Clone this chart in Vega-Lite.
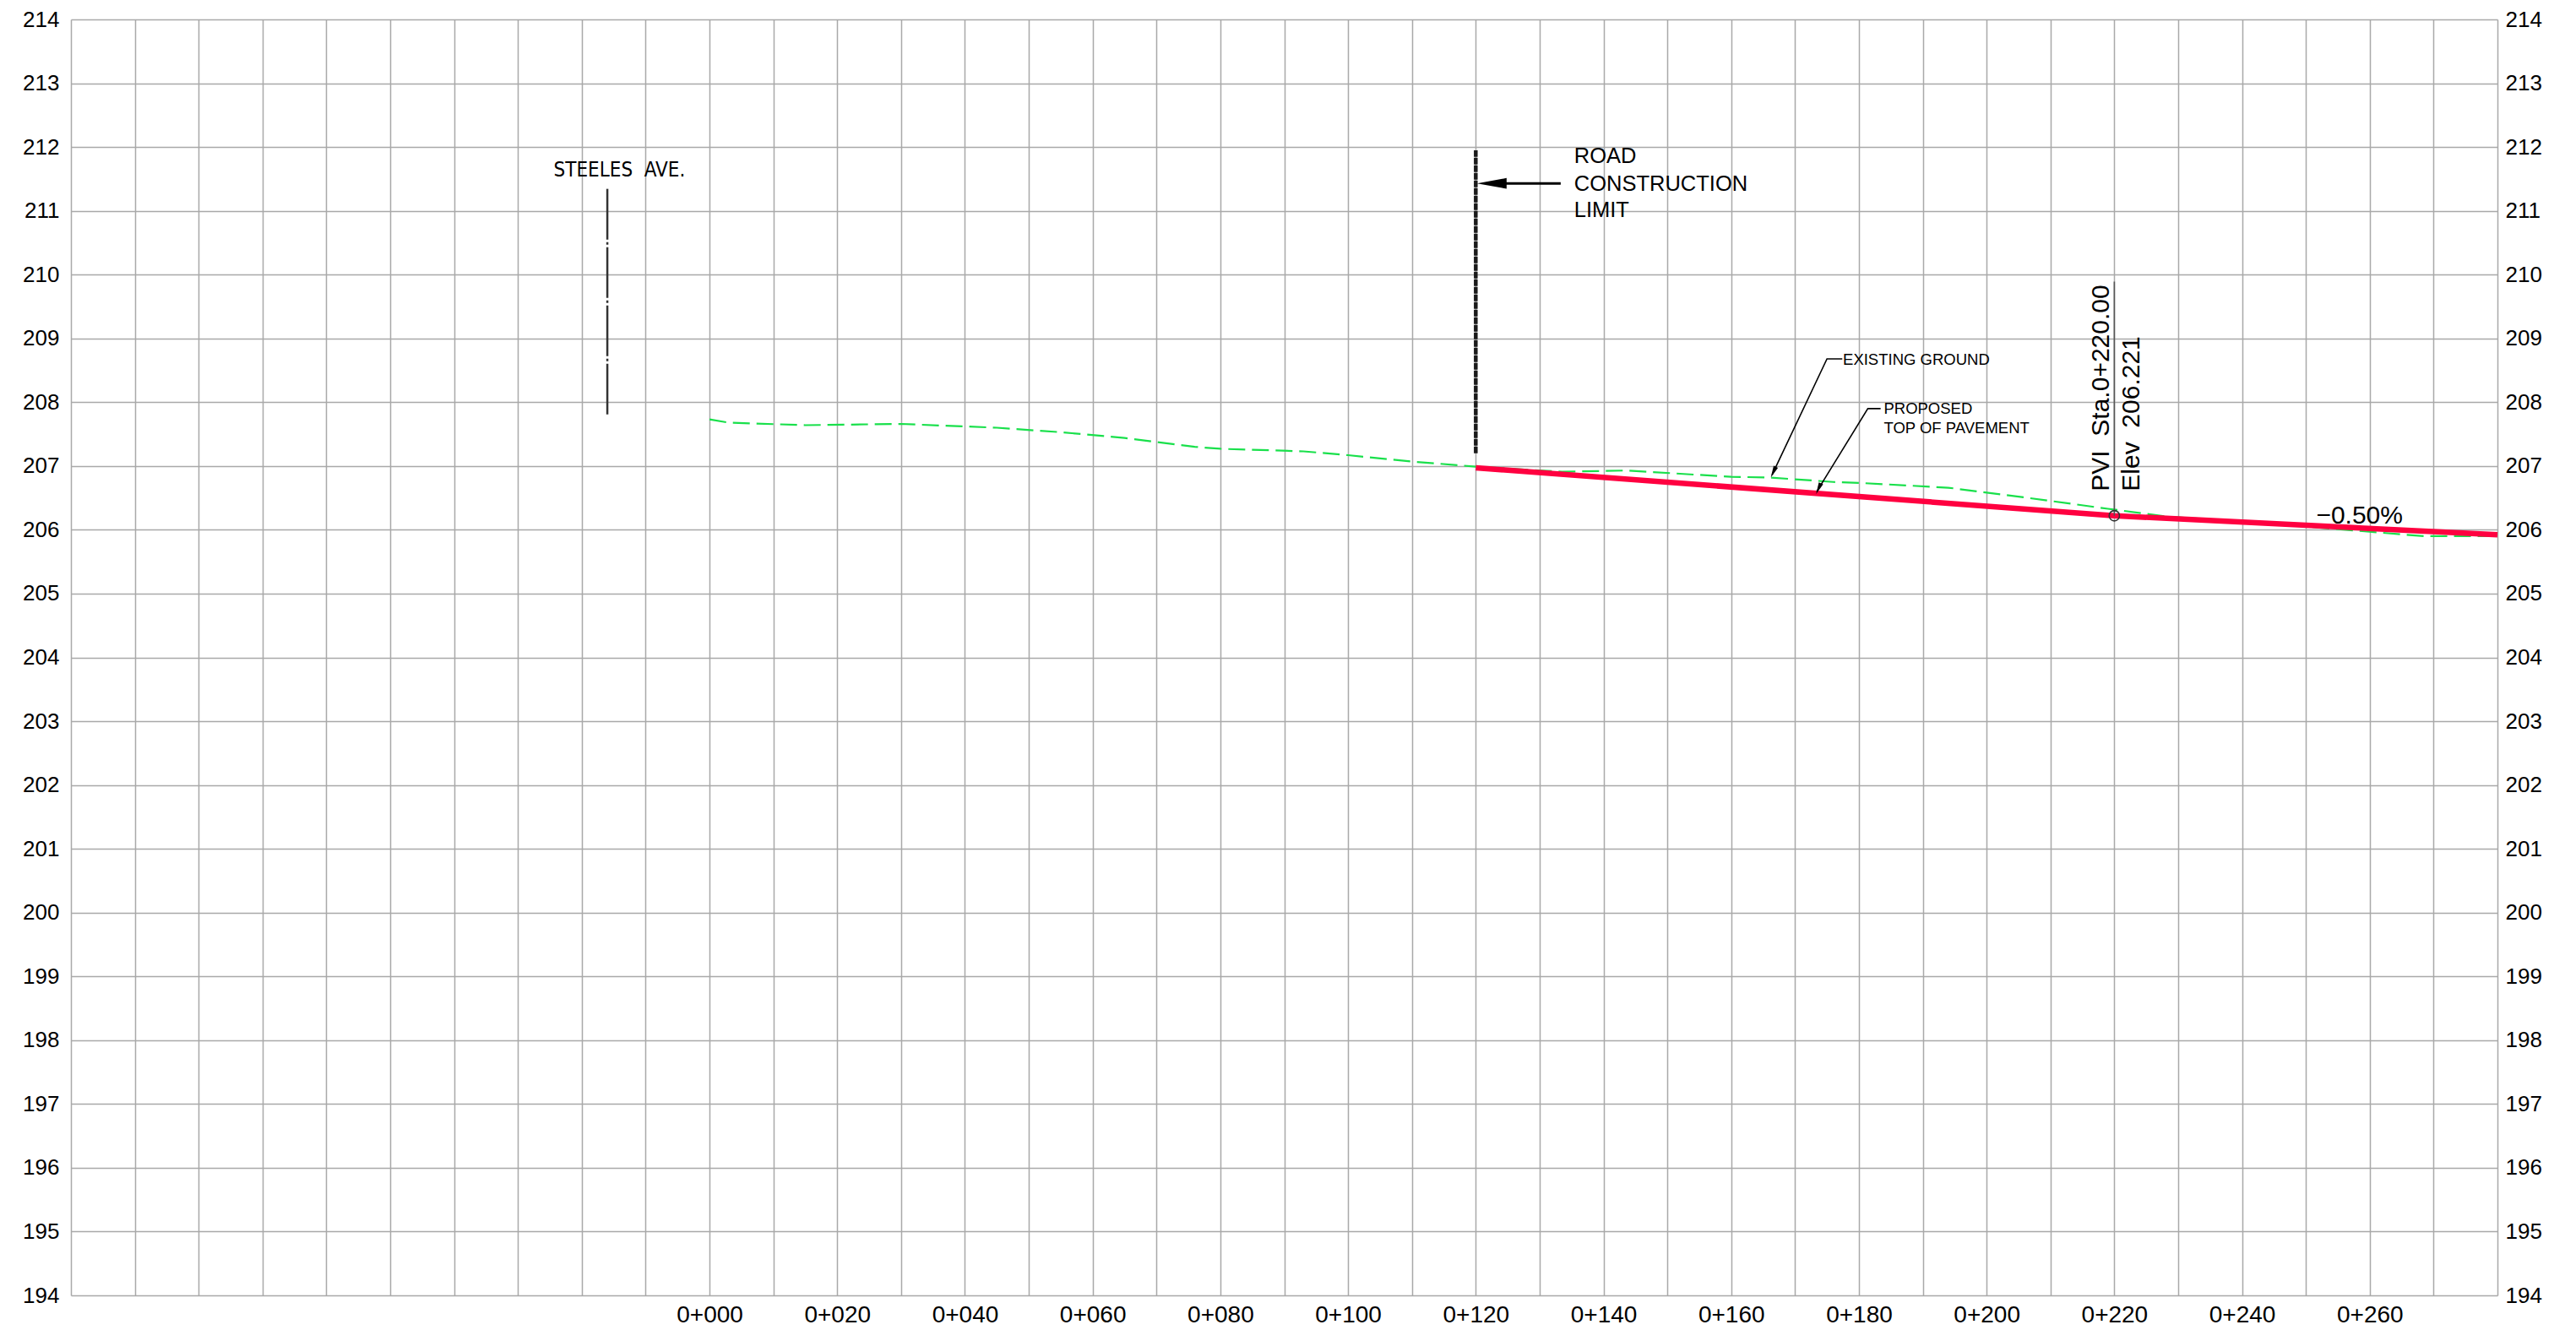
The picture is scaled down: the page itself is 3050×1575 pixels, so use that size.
{
  "$schema": "https://vega.github.io/schema/vega-lite/v6.json",
  "width": 2873,
  "height": 1511,
  "autosize": {"type": "none"},
  "padding": {"left": 84, "top": 23, "right": 93, "bottom": 41},
  "background": "white",
  "config": {
    "view": {"stroke": null},
    "font": "Liberation Sans",
    "axis": {"ticks": false, "domain": false, "title": null, "labelColor": "black", "labelFont": "Liberation Sans", "labelOverlap": false, "labelFlush": false, "gridColor": "#a9a9a9", "gridWidth": 1.5, "gridOpacity": 1}
  },
  "datasets": {
    "ground": [
      {"station": 0, "elev": 207.73}, {"station": 3, "elev": 207.68}, {"station": 15, "elev": 207.64},
      {"station": 30, "elev": 207.66}, {"station": 45, "elev": 207.6}, {"station": 55, "elev": 207.53},
      {"station": 65, "elev": 207.44}, {"station": 76, "elev": 207.3}, {"station": 80, "elev": 207.27},
      {"station": 93, "elev": 207.23}, {"station": 100, "elev": 207.17}, {"station": 110, "elev": 207.07},
      {"station": 120, "elev": 206.99}, {"station": 133.5, "elev": 206.91}, {"station": 143.6, "elev": 206.93},
      {"station": 160, "elev": 206.83}, {"station": 166, "elev": 206.82}, {"station": 176, "elev": 206.75},
      {"station": 181, "elev": 206.73}, {"station": 194, "elev": 206.66}, {"station": 205, "elev": 206.52},
      {"station": 219, "elev": 206.33}, {"station": 228, "elev": 206.21}, {"station": 240, "elev": 206.13},
      {"station": 250, "elev": 206.05}, {"station": 257.5, "elev": 205.99}, {"station": 268.5, "elev": 205.9},
      {"station": 280, "elev": 205.9}
    ],
    "proposed": [
      {"station": 120, "elev": 206.971}, {"station": 220, "elev": 206.221}, {"station": 280, "elev": 205.921}
    ],
    "steeles": [{"station": -16, "elev": 207.81, "elev2": 211.35}],
    "limit": [{"station": 120, "elev": 207.2, "elev2": 211.95}],
    "shaft": [{"station": 124.5, "station2": 133.3, "elev": 211.43}],
    "limitArrow": [{"station": 120.2, "elev": 211.43}],
    "leaders": [
      {"leader": "existing", "order": 1, "station": 177.4, "elev": 208.68},
      {"leader": "existing", "order": 2, "station": 175.0, "elev": 208.68},
      {"leader": "existing", "order": 3, "station": 166.4, "elev": 206.86},
      {"leader": "proposed", "order": 1, "station": 183.4, "elev": 207.9},
      {"leader": "proposed", "order": 2, "station": 181.4, "elev": 207.9},
      {"leader": "proposed", "order": 3, "station": 173.4, "elev": 206.6}
    ],
    "tipExisting": [{"station": 166.2, "elev": 206.82}],
    "tipProposed": [{"station": 173.3, "elev": 206.56}],
    "pviLine": [{"station": 220, "elev": 206.221, "elev2": 209.89}],
    "pvi": [{"station": 220, "elev": 206.221}],
    "roadText": [
      {"station": 135.4, "elev": 211.745, "text": "ROAD"},
      {"station": 135.4, "elev": 211.316, "text": "CONSTRUCTION"},
      {"station": 135.4, "elev": 210.906, "text": "LIMIT"}
    ],
    "smallText": [
      {"station": 177.5, "elev": 208.586, "text": "EXISTING GROUND"},
      {"station": 183.9, "elev": 207.82, "text": "PROPOSED"},
      {"station": 183.9, "elev": 207.52, "text": "TOP OF PAVEMENT"}
    ],
    "steelesText": [{"station": -24.4, "elev": 211.54, "text": "STEELES\u00a0\u00a0AVE."}],
    "pviText": [
      {"station": 219.2, "elev": 206.605, "text": "PVI\u00a0\u00a0Sta.0+220.00"},
      {"station": 223.9, "elev": 206.605, "text": "Elev\u00a0\u00a0206.221"}
    ],
    "gradeText": [{"station": 258.4, "elev": 206.1, "text": "−0.50%"}]
  },
  "layer": [
    {
      "layer": [
        {
          "data": {"name": "ground"},
          "mark": {"type": "line", "color": "#19e04b", "strokeWidth": 2.2, "strokeDash": [20, 8]},
          "encoding": {
            "x": {"field": "station", "type": "quantitative", "scale": {"domain": [-100, 280], "nice": false, "zero": false},
              "axis": {"orient": "bottom", "grid": true,
                "values": [-100,-95,-90,-85,-80,-75,-70,-65,-60,-55,-50,-45,-40,-35,-30,-25,-20,-15,-10,-5,0,5,10,15,20,25,30,35,40,45,50,55,60,65,70,75,80,85,90,95,100,105,110,115,120,125,130,135,140,145,150,155,160,165,170,175,180,185,190,195,200,205,210,215,220,225,230,235,240,245,250,255,260,265,270,275,280],
                "labelExpr": "(datum.value >= 0 && datum.value <= 260 && datum.value % 20 == 0) ? ('0+' + (datum.value < 10 ? '00' : (datum.value < 100 ? '0' : '')) + datum.value) : ''",
                "labelFontSize": 28, "labelPadding": 9, "labelDx": 18, "labelBaseline": "top"}},
            "y": {"field": "elev", "type": "quantitative", "scale": {"domain": [194, 214], "nice": false, "zero": false},
              "axis": {"orient": "left", "grid": true,
                "values": [194,194.5,195,195.5,196,196.5,197,197.5,198,198.5,199,199.5,200,200.5,201,201.5,202,202.5,203,203.5,204,204.5,205,205.5,206,206.5,207,207.5,208,208.5,209,209.5,210,210.5,211,211.5,212,212.5,213,213.5,214],
                "labelExpr": "datum.value % 1 == 0 ? toString(datum.value) : ''",
                "labelFontSize": 26, "labelPadding": 14, "labelBaseline": "middle"}}
          }
        },
        {
          "data": {"name": "proposed"},
          "mark": {"type": "line", "color": "#ff0040", "strokeWidth": 6.5},
          "encoding": {"x": {"field": "station", "type": "quantitative"}, "y": {"field": "elev", "type": "quantitative"}}
        },
        {
          "data": {"name": "steeles"},
          "mark": {"type": "rule", "color": "#333333", "strokeWidth": 2.5, "strokeDash": [60, 3, 3, 3]},
          "encoding": {"x": {"field": "station", "type": "quantitative"}, "y": {"field": "elev", "type": "quantitative"}, "y2": {"field": "elev2"}}
        },
        {
          "data": {"name": "limit"},
          "mark": {"type": "rule", "color": "#1a1a1a", "strokeWidth": 4.5, "strokeDash": [8, 1]},
          "encoding": {"x": {"field": "station", "type": "quantitative"}, "y": {"field": "elev", "type": "quantitative"}, "y2": {"field": "elev2"}}
        },
        {
          "data": {"name": "shaft"},
          "mark": {"type": "rule", "color": "black", "strokeWidth": 3},
          "encoding": {"x": {"field": "station", "type": "quantitative"}, "x2": {"field": "station2"}, "y": {"field": "elev", "type": "quantitative"}}
        },
        {
          "data": {"name": "limitArrow"},
          "mark": {"type": "point", "shape": "M0,0L2,-0.36L2,0.36Z", "size": 1225, "filled": true, "color": "black", "opacity": 1},
          "encoding": {"x": {"field": "station", "type": "quantitative"}, "y": {"field": "elev", "type": "quantitative"}}
        },
        {
          "data": {"name": "leaders"},
          "mark": {"type": "line", "color": "black", "strokeWidth": 1.6},
          "encoding": {"x": {"field": "station", "type": "quantitative"}, "y": {"field": "elev", "type": "quantitative"}, "detail": {"field": "leader"}, "order": {"field": "order"}}
        },
        {
          "data": {"name": "tipExisting"},
          "mark": {"type": "point", "shape": "M0,0L2,-0.4L2,0.4Z", "size": 196, "filled": true, "color": "black", "opacity": 1, "angle": 295.3},
          "encoding": {"x": {"field": "station", "type": "quantitative"}, "y": {"field": "elev", "type": "quantitative"}}
        },
        {
          "data": {"name": "tipProposed"},
          "mark": {"type": "point", "shape": "M0,0L2,-0.4L2,0.4Z", "size": 196, "filled": true, "color": "black", "opacity": 1, "angle": 294.3},
          "encoding": {"x": {"field": "station", "type": "quantitative"}, "y": {"field": "elev", "type": "quantitative"}}
        },
        {
          "data": {"name": "pviLine"},
          "mark": {"type": "rule", "color": "#555555", "strokeWidth": 1.6},
          "encoding": {"x": {"field": "station", "type": "quantitative"}, "y": {"field": "elev", "type": "quantitative"}, "y2": {"field": "elev2"}}
        },
        {
          "data": {"name": "pvi"},
          "mark": {"type": "point", "shape": "circle", "size": 150, "filled": false, "color": "#333333", "strokeWidth": 1.6, "opacity": 1},
          "encoding": {"x": {"field": "station", "type": "quantitative"}, "y": {"field": "elev", "type": "quantitative"}}
        },
        {
          "data": {"name": "roadText"},
          "mark": {"type": "text", "font": "Liberation Sans", "fontSize": 25.5, "align": "left", "baseline": "alphabetic", "color": "black"},
          "encoding": {"x": {"field": "station", "type": "quantitative"}, "y": {"field": "elev", "type": "quantitative"}, "text": {"field": "text"}}
        },
        {
          "data": {"name": "smallText"},
          "mark": {"type": "text", "font": "Liberation Sans", "fontSize": 18.5, "align": "left", "baseline": "alphabetic", "color": "black"},
          "encoding": {"x": {"field": "station", "type": "quantitative"}, "y": {"field": "elev", "type": "quantitative"}, "text": {"field": "text"}}
        },
        {
          "data": {"name": "steelesText"},
          "mark": {"type": "text", "font": "Liberation Sans Narrow, DejaVu Sans Condensed, Liberation Sans", "fontSize": 24, "align": "left", "baseline": "alphabetic", "color": "black"},
          "encoding": {"x": {"field": "station", "type": "quantitative"}, "y": {"field": "elev", "type": "quantitative"}, "text": {"field": "text"}}
        },
        {
          "data": {"name": "pviText"},
          "mark": {"type": "text", "font": "Liberation Sans", "fontSize": 30, "align": "left", "baseline": "alphabetic", "angle": 270, "color": "black"},
          "encoding": {"x": {"field": "station", "type": "quantitative"}, "y": {"field": "elev", "type": "quantitative"}, "text": {"field": "text"}}
        },
        {
          "data": {"name": "gradeText"},
          "mark": {"type": "text", "font": "Liberation Sans", "fontSize": 30, "align": "center", "baseline": "alphabetic", "color": "black"},
          "encoding": {"x": {"field": "station", "type": "quantitative"}, "y": {"field": "elev", "type": "quantitative"}, "text": {"field": "text"}}
        }
      ]
    },
    {
      "data": {"name": "pvi"},
      "mark": {"type": "point", "opacity": 0},
      "encoding": {
        "x": {"field": "station", "type": "quantitative"},
        "y": {"field": "elev", "type": "quantitative", "scale": {"domain": [194, 214], "nice": false, "zero": false},
          "axis": {"orient": "right", "grid": false,
            "values": [194,195,196,197,198,199,200,201,202,203,204,205,206,207,208,209,210,211,212,213,214],
            "labelFontSize": 26, "labelPadding": 9, "labelBaseline": "middle"}}
      }
    }
  ],
  "resolve": {"scale": {"y": "independent"}}
}
